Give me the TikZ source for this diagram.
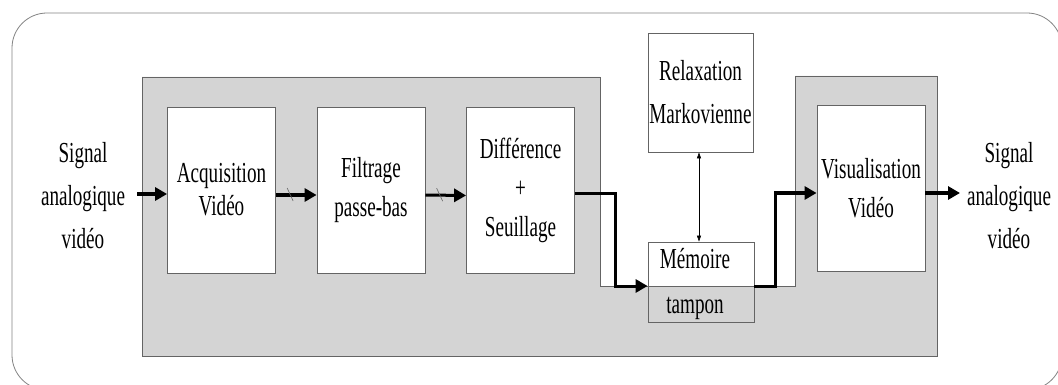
\documentclass[tikz,border=0pt]{standalone}
\usepackage{fontspec}
\setmainfont{Liberation Serif}[FakeStretch=0.66]
\usetikzlibrary{arrows.meta,calc}
\definecolor{panel}{RGB}{212,212,212}
\definecolor{edge}{RGB}{100,100,100}
\definecolor{frame}{RGB}{130,130,130}
\begin{document}
\begin{tikzpicture}[x=1pt,y=-1pt,
  block/.style={draw=edge, line width=0.8pt, fill=white, minimum width=108pt,
    minimum height=166pt, inner sep=0pt, align=center,
    font=\fontsize{29}{39}\selectfont},
  lbl/.style={align=center, inner sep=0pt, font=\fontsize{29}{43}\selectfont},
  txt/.style={inner sep=0pt, font=\fontsize{29}{39}\selectfont},
  flow/.style={line width=3pt, -{Triangle[length=12pt,width=13pt]}},
  link/.style={line width=0.6pt, {Triangle[length=6pt,width=4pt]}-{Triangle[length=6pt,width=4pt]}},
  tickmark/.style={draw=edge, line width=0.6pt}]
\useasboundingbox (0,0) rectangle (1058,385);
\clip (0,0) rectangle (1058,385);
% outer frame
\draw[frame, line width=0.8pt, rounded corners=35pt] (12,13) rectangle (1062,390);
% gray panel
\draw[fill=panel, draw=edge, line width=0.7pt]
  (142,77) -- (600,77) -- (600,286) -- (795,286) -- (795,76) -- (937,76)
  -- (937,356) -- (142,356) -- cycle;
% blocks
\node[block, font=\fontsize{29}{33}\selectfont] (acq) at (221.5,190) {Acquisition\\Vidéo};
\node[block] (fil) at (371,190) {Filtrage\\passe-bas};
\node[block] (dif) at (520.5,190.5) {Différence\\+\\Seuillage};
\node[block] (vis) at (871,188.5) {Visualisation\\Vidéo};
\node[block, minimum width=105pt, minimum height=119pt, font=\fontsize{29}{43}\selectfont] (rel) at (700.5,92.5) {Relaxation\\Markovienne};
\node[draw=edge, line width=0.8pt, minimum width=106pt, minimum height=80pt, inner sep=0pt] (mem) at (701,282) {};
\node[txt, anchor=base] (memA) at (695,268) {Mémoire};
\node[txt, anchor=base] (memB) at (695,313) {tampon};
% labels
\node[lbl] (inL) at (83,196) {Signal\\analogique\\vidéo};
\node[lbl] (outL) at (1009,196) {Signal\\analogique\\vidéo};
% coordinates
\coordinate (in) at (137,194);
\coordinate (j1) at (615,286);
\coordinate (j2) at (775,193);
\coordinate (out) at (960,193);
% connectors
\draw[flow] (in) -- (in -| acq.west);
\draw[flow] ($(acq.east)+(0,5)$) -- coordinate[pos=0.35] (t1) ($(fil.west)+(0,5)$);
\draw[flow] ($(fil.east)+(0,5)$) -- coordinate[pos=0.35] (t2) ($(dif.west)+(0,5)$);
\draw[flow] ($(dif.east)+(0,3)$) -| (j1) -- (j1 -| mem.west);
\draw[flow] ($(mem.east)+(0,4)$) -| (j2) -- (j2 -| vis.west);
\draw[flow] (out -| vis.east) -- (out);
\draw[link] ($(rel.south)+(-1.5,0)$) -- ($(mem.north)+(-2,0)$);
% tick marks
\draw[tickmark] ($(t1)+(-3,-7)$) -- ($(t1)+(3,6)$);
\draw[tickmark] ($(t2)+(-3,-7)$) -- ($(t2)+(3,6)$);
\end{tikzpicture}
\end{document}
